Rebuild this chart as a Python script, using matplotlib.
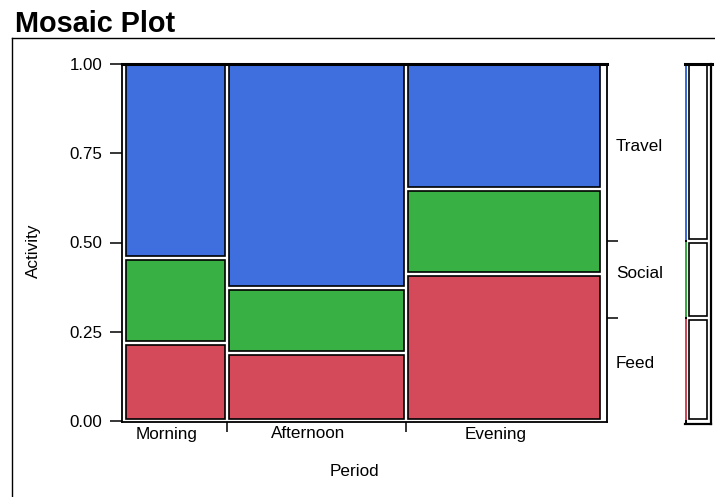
import numpy as np
import matplotlib
matplotlib.use('Agg')
import matplotlib.pyplot as plt
from matplotlib.patches import Rectangle
from matplotlib.lines import Line2D
import matplotlib.transforms as mtransforms

plt.rcParams['font.family'] = ['Liberation Sans', 'DejaVu Sans']

# ---------------- data ----------------
periods = ['Morning', 'Afternoon', 'Evening']
period_share = [0.215, 0.374, 0.411]
activities = ['Feed', 'Social', 'Travel']
feed = [0.218, 0.190, 0.413]
social = [0.239, 0.182, 0.238]
travel = [0.543, 0.628, 0.349]
colors = {'Feed': '#D54A5A', 'Social': '#39B044', 'Travel': '#3F6FDE'}
y_ticks = [0.0, 0.25, 0.5, 0.75, 1.0]
y_tick_labels = ['0.00', '0.25', '0.50', '0.75', '1.00']

# ---------------- layout ----------------
W, H = 715, 497
fig = plt.figure(figsize=(W / 100, H / 100), dpi=100)


def fx(px):
    return px / W


def fy(py):
    return 1 - py / H


ax_l, ax_r, ax_t, ax_b = 121.5, 606.5, 64, 422
ax = fig.add_axes([fx(ax_l), fy(ax_b), (ax_r - ax_l) / W, (ax_b - ax_t) / H])
px_x = 478.3
px_y = 357.0
ax.set_xlim(-2.5 / px_x, 1 + 4.2 / px_x)
ax.set_ylim(-1 / px_y, 1.0)

gx = 2 / px_x
gy = 2 / px_y

shares = np.array(period_share, dtype=float)
shares = shares / shares.sum()
edges = np.concatenate([[0], np.cumsum(shares)])
props = np.array([feed, social, travel], dtype=float)
props = props / props.sum(axis=0)

for j in range(len(periods)):
    x0, x1 = edges[j] + gx, edges[j + 1] - gx
    cum = np.concatenate([[0], np.cumsum(props[:, j])])
    for i, act in enumerate(activities):
        y0 = cum[i] + gy
        y1 = cum[i + 1] - gy if i < len(activities) - 1 else 1.0
        ax.add_patch(Rectangle((x0, y0), x1 - x0, y1 - y0,
                               facecolor=colors[act], edgecolor='black',
                               lw=1.2, zorder=2))

for s in ['left', 'bottom', 'right']:
    ax.spines[s].set_linewidth(1.3)
ax.spines['top'].set_linewidth(2.2)
ax.spines['top'].set_zorder(3)

ax.set_yticks(y_ticks, y_tick_labels)
ax.tick_params(axis='y', length=8.6, width=1.1, pad=5, labelsize=12.2)
ax.set_xticks(edges[1:-1])
ax.set_xticklabels([])
ax.tick_params(axis='x', length=7.2, width=1.1)

# category labels under columns
centers = (edges[:-1] + edges[1:]) / 2
ctrans = mtransforms.blended_transform_factory(ax.transData, ax.transAxes) + \
    mtransforms.ScaledTranslation(-8.5 / 100, -16.5 / 100, fig.dpi_scale_trans)
for c, p in zip(centers, periods):
    ax.text(c, 0, p, ha='center', va='baseline', fontsize=12.3,
            transform=ctrans)

# right axis with marginal boundaries
marg = props @ shares
mcum = np.concatenate([[0], np.cumsum(marg)])
rax = ax.twinx()
rax.set_ylim(ax.get_ylim())
rax.set_yticks(mcum[1:-1])
rax.set_yticklabels([])
rax.tick_params(axis='y', length=8.0, width=1.1)
for s in rax.spines.values():
    s.set_visible(False)

rtrans = mtransforms.blended_transform_factory(ax.transAxes, ax.transData) + \
    mtransforms.ScaledTranslation(9.5 / 100, 1.5 / 100, fig.dpi_scale_trans)
for i, act in enumerate(activities):
    ax.text(1, (mcum[i] + mcum[i + 1]) / 2, act, ha='left', va='baseline',
            fontsize=12.3, transform=rtrans)

# ---------------- legend bar ----------------
lax = fig.add_axes([fx(683), fy(ax_b), 30 / W, (ax_b - ax_t) / H])
lax.set_xlim(0, 30)
lax.set_ylim(ax.get_ylim())
lax.axis('off')
bot = -3.3 / px_y
lax.add_line(Line2D([3.2, 3.2], [bot, 1.0], color='black', lw=1.4, clip_on=False))
for i, act in enumerate(activities):
    y0 = mcum[i] + gy
    y1 = mcum[i + 1] - gy if i < len(activities) - 1 else 1.0
    lax.add_line(Line2D([3.2, 3.2], [y0, y1], color=colors[act], lw=1.4,
                        clip_on=False))
    lax.add_patch(Rectangle((6, y0), 18, y1 - y0, facecolor='white',
                            edgecolor='black', lw=1.2, clip_on=False))
lax.add_line(Line2D([1.5, 28.8], [1.0, 1.0], color='black', lw=2.2, clip_on=False))
lax.add_line(Line2D([27.5, 27.5], [bot, 1.0], color='black', lw=1.6, clip_on=False))
lax.add_line(Line2D([1.5, 28.3], [bot, bot], color='black', lw=1.6, clip_on=False))

# ---------------- texts and frame ----------------
fig.text(fx(33), fy(251), 'Activity', rotation=90, ha='center', va='center',
         fontsize=12.3)
fig.text(fx(354.5), fy(476.5), 'Period', ha='center', va='baseline',
         fontsize=12.3)
fig.text(fx(15), fy(31.7), 'Mosaic Plot', ha='left', va='baseline',
         fontsize=20.8, fontweight='bold')

fig.add_artist(Line2D([fx(12), fx(W + 2)], [fy(38), fy(38)], color='black',
                      lw=1.0, transform=fig.transFigure))
fig.add_artist(Line2D([fx(12), fx(12)], [fy(38), fy(H + 2)], color='black',
                      lw=1.0, transform=fig.transFigure))

fig.savefig('out.png', dpi=100)
